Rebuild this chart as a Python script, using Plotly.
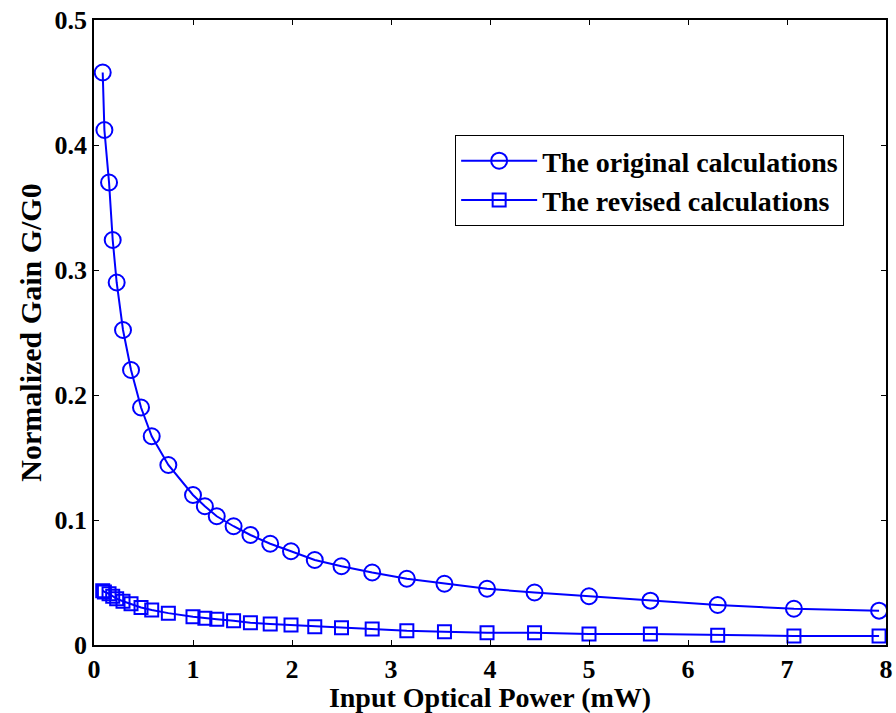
import plotly.graph_objects as go

power_mw = [0.088, 0.105, 0.152, 0.189, 0.229, 0.293, 0.374, 0.475, 0.583, 0.751,
            1.0, 1.12, 1.24, 1.41, 1.58, 1.78, 1.99, 2.23, 2.5, 2.81,
            3.16, 3.54, 3.97, 4.45, 5.0, 5.62, 6.3, 7.07, 7.93]

gain_original = [0.458, 0.412, 0.370, 0.324, 0.290, 0.252, 0.220, 0.190, 0.167, 0.144,
                 0.120, 0.111, 0.103, 0.095, 0.088, 0.081, 0.075, 0.068, 0.063, 0.058,
                 0.053, 0.049, 0.045, 0.042, 0.039, 0.0355, 0.032, 0.029, 0.0275]

gain_revised = [0.0435, 0.0425, 0.041, 0.039, 0.037, 0.035, 0.033, 0.030, 0.028, 0.0255,
                0.0226, 0.0214, 0.0206, 0.0194, 0.0178, 0.0168, 0.016, 0.0146, 0.0138, 0.0128,
                0.0114, 0.0106, 0.0098, 0.0098, 0.0088, 0.0088, 0.0078, 0.0072, 0.0072]

series_names = ["The original calculations", "The revised calculations"]

x_ticks = [0, 1, 2, 3, 4, 5, 6, 7, 8]
y_ticks = [0, 0.1, 0.2, 0.3, 0.4, 0.5]
y_tick_text = ["0", "0.1", "0.2", "0.3", "0.4", "0.5"]

BLUE = "#0000FF"
FONT = "Liberation Serif, Times New Roman, serif"

fig = go.Figure()
fig.add_trace(go.Scatter(
    x=power_mw, y=gain_original, name=series_names[0], mode="lines+markers",
    line=dict(color=BLUE, width=2),
    marker=dict(symbol="circle-open", size=16, color=BLUE, line=dict(width=2, color=BLUE)),
))
fig.add_trace(go.Scatter(
    x=power_mw, y=gain_revised, name=series_names[1], mode="lines+markers",
    line=dict(color=BLUE, width=2),
    marker=dict(symbol="square-open", size=13, color=BLUE, line=dict(width=2, color=BLUE)),
))

axis_common = dict(
    showline=True, linecolor="black", linewidth=1.5, mirror="ticks",
    ticks="inside", ticklen=5, tickwidth=1, tickcolor="black",
    showgrid=False, zeroline=False, automargin=False,
    tickfont=dict(family=FONT, size=26, color="black", weight="bold"),
)

fig.update_layout(
    width=896, height=713,
    margin=dict(l=94, r=10, t=20, b=68),
    paper_bgcolor="white", plot_bgcolor="white",
    showlegend=True,
    legend=dict(
        x=0.456, y=0.816, xanchor="left", yanchor="top",
        bordercolor="black", borderwidth=1, bgcolor="white",
        font=dict(family=FONT, size=28, color="black", weight="bold"),
        itemwidth=76, tracegroupgap=0,
    ),
    xaxis=dict(
        range=[0, 8], tickvals=x_ticks,
        title=dict(text="Input Optical Power (mW)", standoff=6,
                   font=dict(family=FONT, size=28, color="black", weight="bold")),
        **axis_common,
    ),
    yaxis=dict(
        range=[0, 0.5], tickvals=y_ticks, ticktext=y_tick_text,
        title=dict(text="Normalized Gain G/G0", standoff=4,
                   font=dict(family=FONT, size=30, color="black", weight="bold")),
        **axis_common,
    ),
)

fig.write_html("out.html")
